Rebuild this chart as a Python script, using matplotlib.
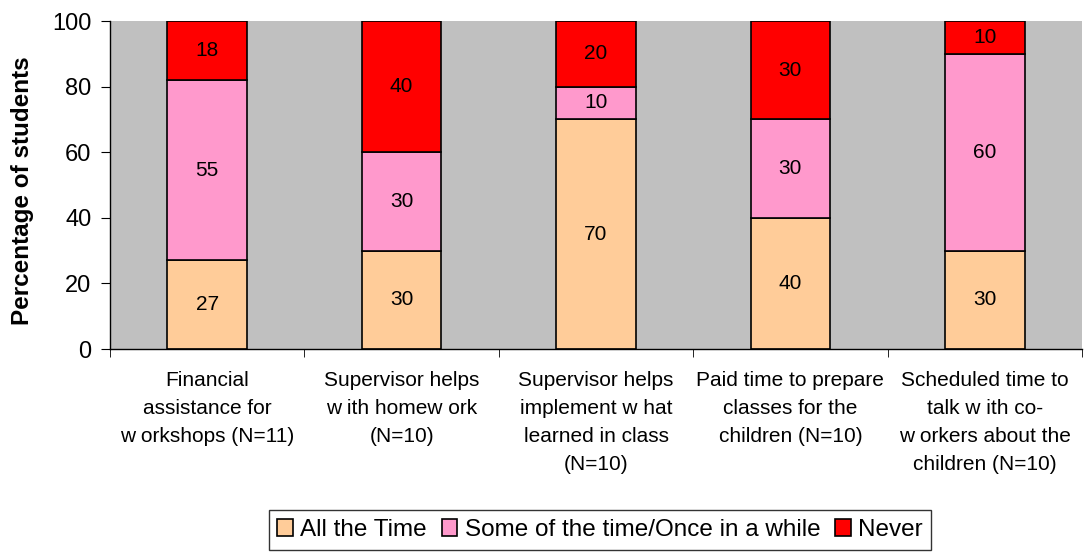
import matplotlib.pyplot as plt
import numpy as np

plt.rcParams['font.family'] = ['Liberation Sans', 'DejaVu Sans']

categories = [
    'Financial\nassistance for\nw orkshops (N=11)',
    'Supervisor helps\nw ith homew ork\n(N=10)',
    'Supervisor helps\nimplement w hat\nlearned in class\n(N=10)',
    'Paid time to prepare\nclasses for the\nchildren (N=10)',
    'Scheduled time to\ntalk w ith co-\nw orkers about the\nchildren (N=10)',
]
all_time = [27, 30, 70, 40, 30]
some_time = [55, 30, 10, 30, 60]
never = [18, 40, 20, 30, 10]
series_names = ['All the Time', 'Some of the time/Once in a while', 'Never']
colors = ['#FFCC99', '#FF99CC', '#FF0000']

fig = plt.figure(figsize=(10.84, 5.54), dpi=100)
ax = fig.add_axes([110 / 1084, 1 - 349 / 554, 972 / 1084, 328 / 554])
ax.set_facecolor('#C0C0C0')

x = np.arange(len(categories))
bottom = np.zeros(len(categories))
handles = []
for vals, name, col in zip([all_time, some_time, never], series_names, colors):
    bars = ax.bar(x, vals, width=0.41, bottom=bottom, color=col,
                  edgecolor='black', linewidth=1.2, label=name)
    for xi, b, v in zip(x, bottom, vals):
        ax.text(xi, b + v / 2, str(v), ha='center', va='center', fontsize=15)
    bottom += np.array(vals)
    handles.append(bars)

ax.set_xlim(-0.5, 4.5)
ax.set_ylim(0, 100)
ax.set_yticks(range(0, 101, 20))
ax.tick_params(axis='y', labelsize=17, length=6.5, pad=7, direction='out')
ax.set_xticks(x)
ax.set_xticklabels(categories, fontsize=15, linespacing=1.6)
ax.tick_params(axis='x', length=0, pad=16)
ax.set_xticks(np.arange(-0.5, 5, 1), minor=True)
ax.tick_params(axis='x', which='minor', length=6)
ax.set_ylabel('Percentage of students', fontsize=17.5, fontweight='bold')
ax.yaxis.set_label_coords(-76 / 972, (349 - 191) / 328)

for s in ['top', 'right']:
    ax.spines[s].set_visible(False)
ax.spines['left'].set_linewidth(1)
ax.spines['bottom'].set_linewidth(1)

leg = fig.legend(handles=handles, loc='center', bbox_to_anchor=(600 / 1084, 1 - 530 / 554),
                 ncol=3, fontsize=17.5, frameon=True, fancybox=False, edgecolor='black',
                 handlelength=0.65, handleheight=0.65, handletextpad=0.3, columnspacing=0.6,
                 borderpad=0.35)
leg.get_frame().set_linewidth(1)

fig.savefig('out.png', dpi=100)
